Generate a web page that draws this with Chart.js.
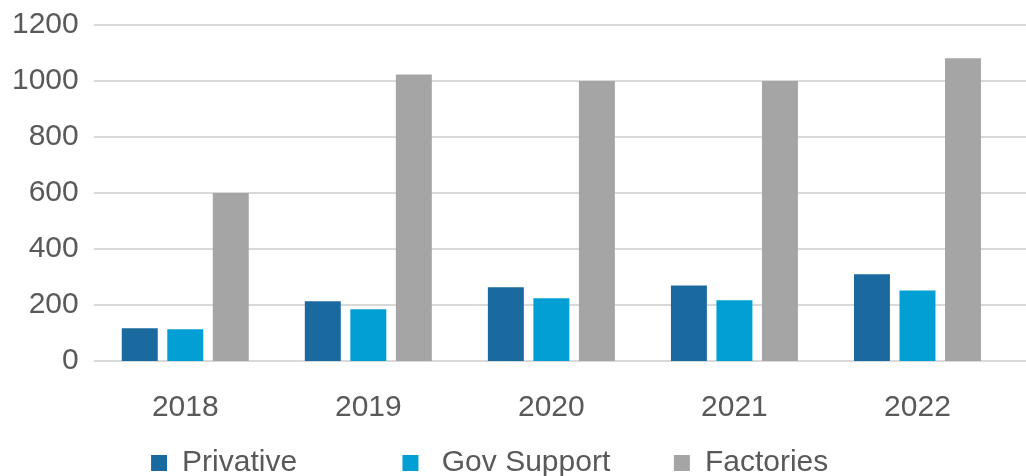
<!DOCTYPE html>
<html>
<head>
<meta charset="utf-8">
<script src="https://cdn.jsdelivr.net/npm/chart.js@4/dist/chart.umd.min.js"></script>
<style>
  html, body { margin: 0; padding: 0; background: #fff; }
  #wrap { position: relative; width: 1026px; height: 476px; }
</style>
</head>
<body>
<div id="wrap"><canvas id="barChart"></canvas></div>
<script>
const years = ["2018", "2019", "2020", "2021", "2022"];
const privative = [117, 213, 263, 270, 310];
const govSupport = [113, 185, 224, 217, 252];
const factories = [600, 1023, 1000, 1000, 1081];
const yTicks = [0, 200, 400, 600, 800, 1000, 1200];

const textColor = "#595959";
const font = { family: "'Liberation Sans', Arial, sans-serif", size: 30 };

// legend gaps in the original are wider than the labels, pad them with spaces
const legendPad = [10, 5, 5];

// draws the horizontal grid lines all the way to the right edge of the canvas
const fullGrid = {
  id: "fullGrid",
  beforeDatasetsDraw(chart) {
    const { ctx, chartArea, scales } = chart;
    ctx.save();
    ctx.strokeStyle = "#d9d9d9";
    ctx.lineWidth = 2;
    scales.y.ticks.forEach((t) => {
      const y = Math.round(scales.y.getPixelForValue(t.value));
      ctx.beginPath();
      ctx.moveTo(chartArea.left, y);
      ctx.lineTo(chart.width, y);
      ctx.stroke();
    });
    ctx.restore();
  },
};

new Chart(document.getElementById("barChart"), {
  type: "bar",
  data: {
    labels: years,
    datasets: [
      { label: "Privative", data: privative, backgroundColor: "#1a699f" },
      { label: " Gov Support", data: govSupport, backgroundColor: "#029fd5" },
      { label: "Factories", data: factories, backgroundColor: "#a5a5a5" },
    ],
  },
  options: {
    responsive: true,
    maintainAspectRatio: false,
    animation: false,
    layout: { padding: { top: 25, left: 12, right: 17, bottom: -12 } },
    datasets: {
      bar: { categoryPercentage: 0.746, barPercentage: 0.79 },
    },
    plugins: {
      tooltip: { enabled: false },
      legend: {
        position: "bottom",
        labels: {
          color: textColor,
          font: font,
          boxWidth: 16,
          boxHeight: 16,
          padding: 22,
          generateLabels(chart) {
            const items = Chart.defaults.plugins.legend.labels.generateLabels(chart);
            return items.map((it, i) => {
              it.text = it.text + " ".repeat(legendPad[i]);
              it.lineWidth = 0;
              return it;
            });
          },
        },
      },
    },
    scales: {
      x: {
        grid: { display: false, drawTicks: true, tickLength: 29 },
        border: { display: false },
        ticks: { color: textColor, font: font, padding: 0, maxRotation: 0 },
      },
      y: {
        min: 0,
        max: 1200,
        afterBuildTicks(scale) {
          scale.ticks = yTicks.map((v) => ({ value: v }));
        },
        grid: { display: false, drawTicks: true, tickLength: 15 },
        border: { display: false },
        ticks: { color: textColor, font: font, padding: 0, callback: (v) => String(v) },
      },
    },
  },
  plugins: [fullGrid],
});
</script>
</body>
</html>
